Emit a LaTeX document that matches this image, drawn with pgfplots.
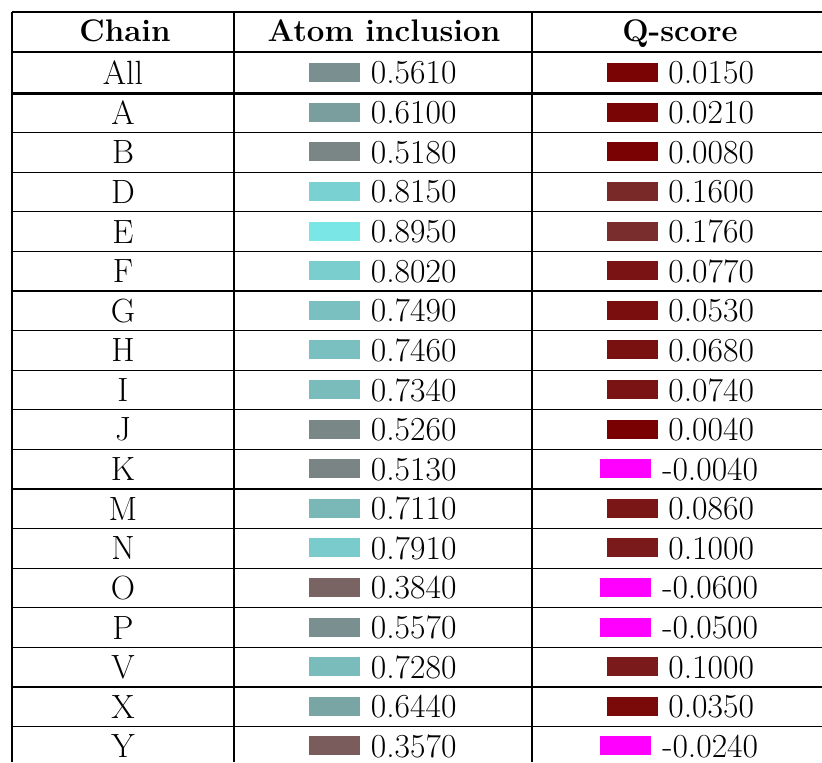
\documentclass[border=0pt]{standalone}
\usepackage{pgfplots}
\usepackage{pgfplotstable}
\pgfplotsset{compat=1.18}
\definecolor{negq}{RGB}{255,0,255}

% chain, atom inclusion, Q-score
\pgfplotstableread{
chain atom q
All 0.5610 0.0150
A 0.6100 0.0210
B 0.5180 0.0080
D 0.8150 0.1600
E 0.8950 0.1760
F 0.8020 0.0770
G 0.7490 0.0530
H 0.7460 0.0680
I 0.7340 0.0740
J 0.5260 0.0040
K 0.5130 -0.0040
M 0.7110 0.0860
N 0.7910 0.1000
O 0.3840 -0.0600
P 0.5570 -0.0500
V 0.7280 0.1000
X 0.6440 0.0350
Y 0.3570 -0.0240
}\chains

% colour swatch drawn in place of a mark
\pgfdeclareplotmark{swatch}{%
  \pgfpathrectangle{\pgfpoint{-12.75pt}{-4.5pt}}{\pgfpoint{25.5pt}{9.5pt}}%
  \pgfusepathqfill}

\begin{document}
\fontsize{16.8}{20}\selectfont
\begin{tikzpicture}
\begin{axis}[
  width=411pt, height=381pt, scale only axis,
  xmin=0, xmax=822, ymin=0, ymax=762,
  y dir=reverse,
  hide axis,
  colormap={incl}{rgb=(0.48,0,0) rgb=(0.48,1,1)},
  point meta min=0, point meta max=1,
  scatter/use mapped color={draw=mapped color, fill=mapped color},
  every node near coord/.append style={text=black, inner sep=0pt},
  /pgf/number format/assume math mode=true,
  ]
  % table rules
  \draw[line width=0.6pt] (axis cs:12,12) -- (axis cs:822,12);
  \draw[line width=0.7pt] (axis cs:12,52) -- (axis cs:822,52);
  \draw[line width=1.5pt] (axis cs:12,93) -- (axis cs:822,93);
  \pgfplotsinvokeforeach{1,...,16}{
    \draw[line width=0.6pt] (axis cs:12,{93+39.6*#1}) -- (axis cs:822,{93+39.6*#1});
  }
  \draw[line width=0.6pt] (axis cs:12,12) -- (axis cs:12,762);
  \draw[line width=0.6pt] (axis cs:234,12) -- (axis cs:234,762);
  \draw[line width=0.6pt] (axis cs:532,12) -- (axis cs:532,762);

  % headers
  \node[anchor=base, font=\fontsize{15.6}{19}\bfseries] at (axis cs:125,41.5) {Chain};
  \node[anchor=base, font=\fontsize{15.6}{19}\bfseries] at (axis cs:384,41.5) {Atom inclusion};
  \node[anchor=base, font=\fontsize{15.6}{19}\bfseries] at (axis cs:680,41.5) {Q-score};

  % chain names
  \addplot[only marks, mark=none, nodes near coords, point meta=explicit symbolic,
    nodes near coords style={anchor=center}]
    table[x expr=123, y expr={ifthenelse(\coordindex==0,72.5,112.8+39.6*(\coordindex-1))}, meta=chain] {\chains};

  % atom inclusion
  \addplot[scatter, only marks, mark=swatch, point meta=explicit,
    nodes near coords*={\pgfmathprintnumber[fixed,zerofill,precision=4]{\pgfplotspointmeta}},
    nodes near coords style={anchor=west, xshift=18pt}]
    table[x expr=334.5, y expr={ifthenelse(\coordindex==0,72.5,112.8+39.6*(\coordindex-1))}, meta=atom] {\chains};

  % Q-score, non-negative
  \addplot[scatter, only marks, mark=swatch, point meta=explicit,
    restrict expr to domain={\thisrow{q}}{0:10},
    nodes near coords*={\pgfmathprintnumber[fixed,zerofill,precision=4]{\pgfplotspointmeta}},
    nodes near coords style={anchor=west, xshift=17.75pt}]
    table[x expr=632.5, y expr={ifthenelse(\coordindex==0,72.5,112.8+39.6*(\coordindex-1))}, meta=q] {\chains};

  % Q-score, negative
  \addplot[only marks, mark=swatch, color=negq, point meta=explicit,
    restrict expr to domain={\thisrow{q}}{-10:-0.0001},
    nodes near coords={\pgfmathprintnumber[fixed,zerofill,precision=4]{\pgfplotspointmeta}},
    nodes near coords style={anchor=west, xshift=18.25pt}]
    table[x expr=625.5, y expr={ifthenelse(\coordindex==0,72.5,112.8+39.6*(\coordindex-1))}, meta=q] {\chains};
\end{axis}
\pgfresetboundingbox
\useasboundingbox (current axis.south west) rectangle (current axis.north east);
\end{tikzpicture}
\end{document}
